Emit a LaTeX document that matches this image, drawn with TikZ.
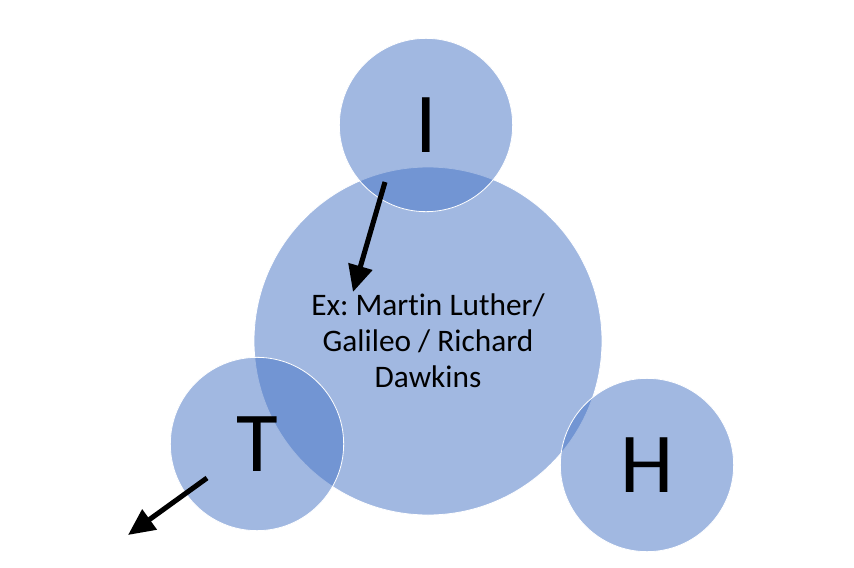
\documentclass[tikz,border=0pt]{standalone}
\usepackage{fontspec}
\setmainfont{Carlito}[Ligatures=NoCommon]
\usetikzlibrary{arrows.meta}
\frenchspacing

\begin{document}
\begin{tikzpicture}[x=0.75pt,y=-0.75pt,
  bub/.style={circle,fill={rgb,255:red,68;green,114;blue,196},fill opacity=0.5,draw=white,line width=0.6pt,text opacity=1,inner sep=0pt},
  big/.style={bub,minimum size=261pt,font=\fontsize{23.5pt}{27pt}\selectfont,align=center},
  small/.style={bub,minimum size=130pt,font=\fontsize{64pt}{70pt}\selectfont},
  arr/.style={-{Triangle[length=20pt,width=18pt]},line width=3.8pt,black}]
  \useasboundingbox (0,0) rectangle (854,568);
  % ---------- circles ----------
  \node[big] (core) at (428,341) {Ex: Martin Luther/\\Galileo / Richard\\Dawkins};
  \node[small] (I) at (426,125) {I};
  \node[small] (T) at (257,444) {T};
  \node[small] (H) at (647,465) {H};
  % ---------- arrows ----------
  \coordinate (a1) at (385,182);
  \coordinate (b1) at (353,292);
  \coordinate (a2) at (207,478);
  \coordinate (b2) at (128,535);
  \draw[arr] (a1) -- (b1);
  \draw[arr] (a2) -- (b2);
\end{tikzpicture}
\end{document}
